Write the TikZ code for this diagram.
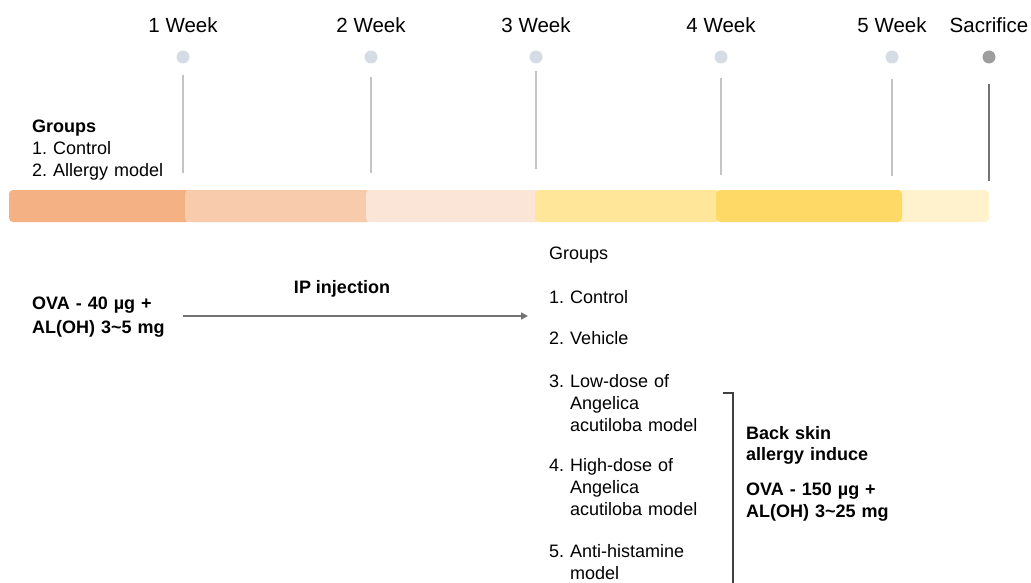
\documentclass[tikz,border=0pt]{standalone}
\usepackage{fontspec}
\setmainfont{Liberation Sans}
\usetikzlibrary{arrows.meta}
\definecolor{segA}{HTML}{F4B183}
\definecolor{segB}{HTML}{F8CBAD}
\definecolor{segC}{HTML}{FBE5D6}
\definecolor{segD}{HTML}{FFE699}
\definecolor{segE}{HTML}{FFD966}
\definecolor{segF}{HTML}{FFF2CC}
\definecolor{dotblue}{HTML}{D6DCE5}
\definecolor{ticklight}{HTML}{C4C4C4}
\frenchspacing
\begin{document}
\begin{tikzpicture}[x=1pt, y=-1pt,
        every node/.style = {inner sep=0pt},
        wk/.style = {font=\fontsize{20.5}{24}\selectfont, anchor=base},
        txt/.style = {font=\fontsize{18}{22}\selectfont, anchor=base west,
            align=left, text width=220pt},
        bld/.style = {txt, font=\fontsize{18}{22}\selectfont\bfseries},
        wdot/.style = {circle, fill=dotblue, minimum size=13pt},
        tickline/.style = {draw=ticklight, line width=1.8pt},
        seg/.style = {rounded corners=4pt, draw=none}]
    \useasboundingbox (0,0) rectangle (1031,583);
    \foreach \x/\lab/\top/\bot/\n in {183/1 Week/75/173/1, 371/2 Week/77/173/2,
            536/3 Week/71/169/3, 721/4 Week/78/175/4, 892/5 Week/79/176/5} {
        \node[wk] (week\n) at (\x,33) {\lab};
        \node[wdot] (dot\n) at (\x,57) {};
        \draw[tickline] (\x,\top) -- (\x,\bot);
    }
    \node[wk] (sacr) at (989,33) {Sacrifice};
    \node[wdot, fill=black!38] (dotS) at (989,57) {};
    \draw[draw=black!55, line width=2.4pt] (989,84) -- (989,181);
    \fill[seg, segA] (9,190) rectangle (190,222);
    \fill[seg, segB] (185,190) rectangle (371,222);
    \fill[seg, segC] (366,190) rectangle (540,222);
    \fill[seg, segD] (535,190) rectangle (720,222);
    \fill[seg, segF] (897,190) rectangle (989,222);
    \fill[seg, segE] (716,190) rectangle (902,222);
    \node[txt] (grpL) at (32,133) {\textbf{Groups}\\1. Control\\2. Allergy model};
    \node[bld, font=\fontsize{18}{24}\selectfont\bfseries] (ovaL) at (32,309)
        {OVA - 40 µg +\\AL(OH) 3\textasciitilde5 mg};
    \node[font=\fontsize{18}{22}\selectfont\bfseries, anchor=base] (ip) at (342,293) {IP injection};
    \coordinate (ipA) at (183,316);
    \coordinate (ipB) at (528,316);
    \draw[draw=black!55, line width=1.6pt, -{Triangle[length=7pt, width=7pt]}] (ipA) -- (ipB);
    \node[txt] (grpR) at (549,259) {Groups};
    \node[txt] (g1) at (549,303) {1. Control};
    \node[txt] (g2) at (549,344) {2. Vehicle};
    \node[txt] (g3) at (549,387) {3. Low-dose of\\\phantom{3. }Angelica\\\phantom{3. }acutiloba model};
    \node[txt] (g4) at (549,471) {4. High-dose of\\\phantom{4. }Angelica\\\phantom{4. }acutiloba model};
    \node[txt] (g5) at (549,557) {5. Anti-histamine\\\phantom{5. }model};
    \coordinate (brA) at (723,393);
    \coordinate (brB) at (733,393);
    \coordinate (brC) at (733,583);
    \draw[draw=black!75, line width=1.5pt] (brA) -- (brB) -- (brC);
    \node[bld, font=\fontsize{18}{21}\selectfont\bfseries] (skin) at (746,439) {Back skin\\allergy induce};
    \node[bld] (ovaR) at (746,495) {OVA - 150 µg +\\AL(OH) 3\textasciitilde25 mg};
\end{tikzpicture}
\end{document}
